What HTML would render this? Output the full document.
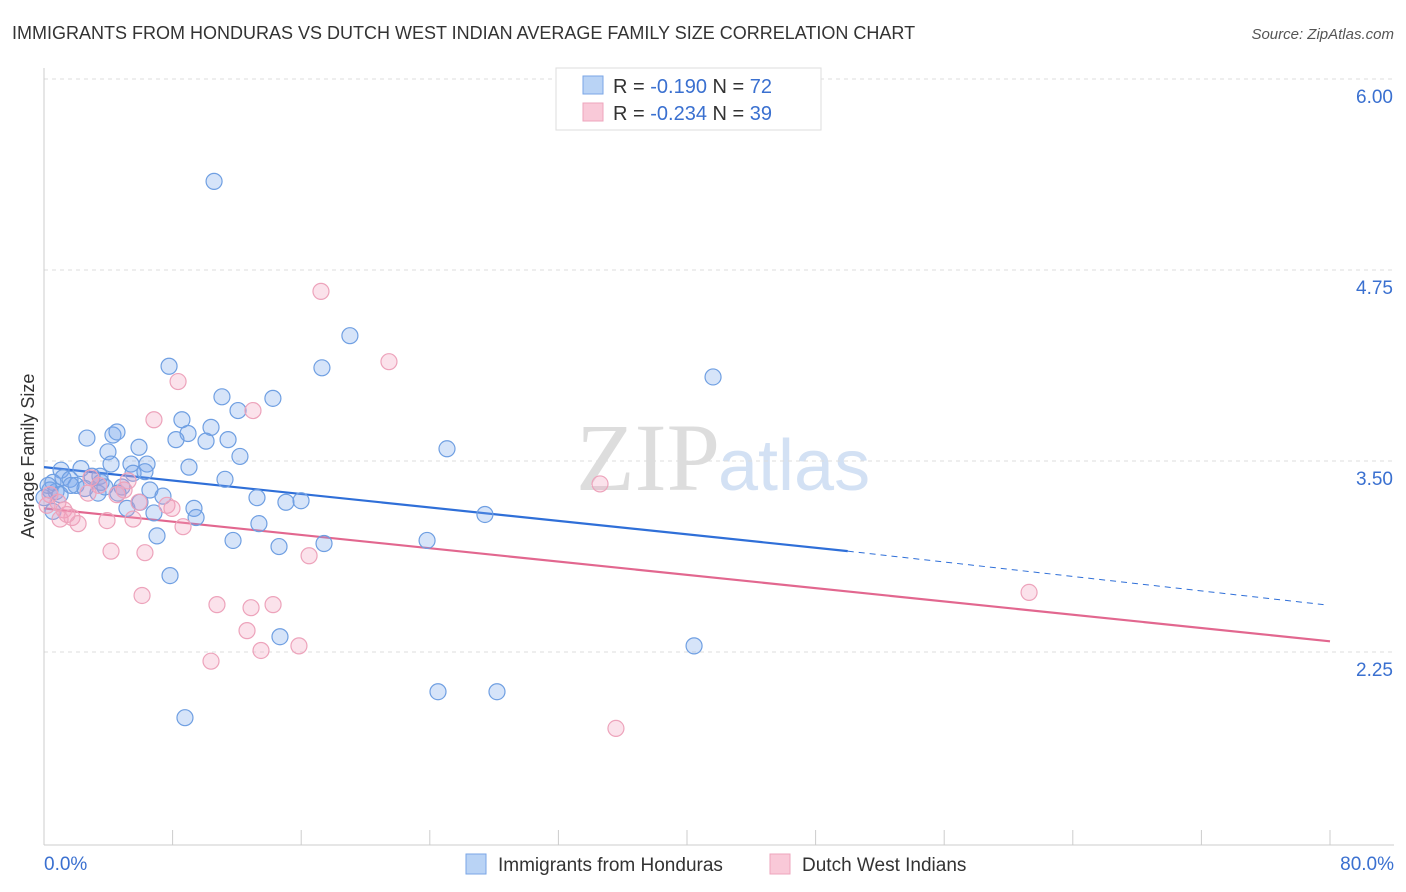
<!DOCTYPE html>
<html><head><meta charset="utf-8"><style>
body{margin:0;background:#fff;font-family:"Liberation Sans",sans-serif;}
#c{position:relative;width:1406px;height:892px;overflow:hidden;}
</style></head><body>
<div id="c">
<svg id="s" width="1406" height="892" xmlns="http://www.w3.org/2000/svg">
<text x="12" y="39" font-size="18" fill="#333">IMMIGRANTS FROM HONDURAS VS DUTCH WEST INDIAN AVERAGE FAMILY SIZE CORRELATION CHART</text>
<text x="1394" y="39" font-size="15" fill="#555" text-anchor="end" font-style="italic">Source: ZipAtlas.com</text>
<text x="720" y="490" font-size="96" fill="#ddd" text-anchor="end" font-family="Liberation Serif">ZIP</text>
<text x="718" y="490" font-size="72" fill="#d3e1f4">atlas</text>
<text x="34" y="456" font-size="18" fill="#333" text-anchor="middle" transform="rotate(-90 34 456)">Average Family Size</text>
<g id="grid"></g><g id="axes"></g><g id="lines"></g><g id="pts"></g>
<g>
<rect x="556" y="68" width="265" height="62" fill="#fff" stroke="#ddd"/>
<rect x="583" y="76" width="20" height="18" fill="#b9d3f5" stroke="#7aa6e6"/>
<rect x="583" y="103" width="20" height="18" fill="#f9c9d8" stroke="#eea5bc"/>
<text x="613" y="93" font-size="20" fill="#333">R = <tspan fill="#3a70d0">-0.190</tspan>   N = <tspan fill="#3a70d0">72</tspan></text>
<text x="613" y="120" font-size="20" fill="#333">R = <tspan fill="#3a70d0">-0.234</tspan>   N = <tspan fill="#3a70d0">39</tspan></text>
</g>
<g>
<rect x="466" y="854" width="20" height="20" fill="#b9d3f5" stroke="#7aa6e6"/>
<text x="498" y="871" font-size="19" fill="#333">Immigrants from Honduras</text>
<rect x="770" y="854" width="20" height="20" fill="#f9c9d8" stroke="#eea5bc"/>
<text x="802" y="871" font-size="19" fill="#333">Dutch West Indians</text>
</g>
</svg>
</div>
<script>
const yTicks=[6.00,4.75,3.50,2.25];
const xTickVals=[0,8,16,24,32,40,48,56,64,72,80];
const blueX=[10.58,19.03,7.78,17.29,41.62,11.07,14.24,8.58,12.07,10.39,8.96,8.21,10.08,11.45,2.67,4.29,4.54,5.91,3.98,25.07,12.19,9.02,4.17,5.41,6.41,11.26,1.06,2.30,0.56,1.18,1.62,2.99,3.55,5.54,6.28,3.48,1.99,2.55,3.36,4.85,6.59,7.40,0.75,0.37,0,13.25,15.05,15.99,5.16,5.97,9.33,9.46,6.84,27.43,13.37,11.76,7.03,14.62,17.42,23.83,7.84,14.68,40.44,24.51,28.18,8.77,0.25,1.00,1.68,3.79,0.56,4.60];
const blueY=[5.33,4.32,4.12,4.11,4.05,3.92,3.91,3.77,3.83,3.72,3.68,3.64,3.63,3.64,3.65,3.67,3.69,3.59,3.56,3.58,3.53,3.46,3.48,3.48,3.48,3.38,3.44,3.45,3.36,3.39,3.38,3.40,3.36,3.42,3.43,3.40,3.34,3.32,3.29,3.33,3.31,3.27,3.30,3.31,3.26,3.26,3.23,3.24,3.19,3.23,3.19,3.13,3.16,3.15,3.09,2.98,3.01,2.94,2.96,2.98,2.75,2.35,2.29,1.99,1.99,1.82,3.34,3.28,3.34,3.33,3.17,3.29];
const pinkX=[17.23,21.46,8.34,13.00,6.84,34.59,61.28,2.92,3.42,5.23,2.74,4.54,0.87,1.24,1.74,1.00,2.12,3.92,5.54,7.65,7.96,8.65,5.91,4.17,6.28,16.49,6.10,10.76,12.88,14.25,12.63,13.50,15.86,10.39,35.58,0.37,0.19,1.43,4.98];
const pinkY=[4.61,4.15,4.02,3.83,3.77,3.35,2.64,3.39,3.34,3.37,3.29,3.28,3.23,3.18,3.13,3.12,3.09,3.11,3.12,3.21,3.19,3.07,3.23,2.91,2.90,2.88,2.62,2.56,2.54,2.56,2.39,2.26,2.29,2.19,1.75,3.28,3.21,3.15,3.31];
const blueTrend=[3.46,2.91,2.56]; const blueTrendX=[0,50,79.6];
const pinkTrend=[3.19,2.32]; const pinkTrendX=[0,80];
const NS='http://www.w3.org/2000/svg';
const X=v=>44+v/80*1286, Y=v=>79+(6-v)*152.8;
function mk(t,a,p){const e=document.createElementNS(NS,t);for(const k in a)e.setAttribute(k,a[k]);document.getElementById(p).appendChild(e);return e;}
yTicks.forEach(v=>{const l=mk('line',{x1:44,x2:1394,y1:Y(v),y2:Y(v),stroke:'#ddd','stroke-dasharray':'4,4'},'grid');


const t=mk('text',{x:1393,y:Y(v)+24,'font-size':19,fill:'#3a70d0','text-anchor':'end'},'grid');t.textContent=v.toFixed(2);

});
mk('line',{x1:44,x2:44,y1:68,y2:845,stroke:'#ccc'},'axes');
mk('line',{x1:44,x2:1394,y1:845,y2:845,stroke:'#ccc'},'axes');
xTickVals.forEach(v=>{const l=mk('line',{x1:X(v),x2:X(v),y1:830,y2:845,stroke:'#ccc'},'axes');

});
let t0=mk('text',{x:44,y:870,'font-size':19,fill:'#3a70d0'},'axes');t0.textContent='0.0%';


let t1=mk('text',{x:1394,y:870,'font-size':19,fill:'#3a70d0','text-anchor':'end'},'axes');t1.textContent='80.0%';


function pts(xs,ys,f,s,n){xs.forEach((x,i)=>{const c=mk('circle',{cx:X(x),cy:Y(ys[i]),r:8,fill:f,stroke:s,'stroke-width':1.2},'pts');

});}
pts(blueX,blueY,'rgba(120,165,235,0.3)','#6f9fe2','honduras-point');
pts(pinkX,pinkY,'rgba(242,160,190,0.3)','#eda3bb','dutch-west-indian-point');
let b1=mk('line',{x1:X(blueTrendX[0]),y1:Y(blueTrend[0]),x2:X(blueTrendX[1]),y2:Y(blueTrend[1]),stroke:'#2f6fd8','stroke-width':2.2},'lines');


let b2=mk('line',{x1:X(blueTrendX[1]),y1:Y(blueTrend[1]),x2:X(blueTrendX[2]),y2:Y(blueTrend[2]),stroke:'#2f6fd8','stroke-width':1,'stroke-dasharray':'6,5'},'lines');


let p1=mk('line',{x1:X(pinkTrendX[0]),y1:Y(pinkTrend[0]),x2:X(pinkTrendX[1]),y2:Y(pinkTrend[1]),stroke:'#e2678f','stroke-width':2.2},'lines');


</script>
</body></html>
